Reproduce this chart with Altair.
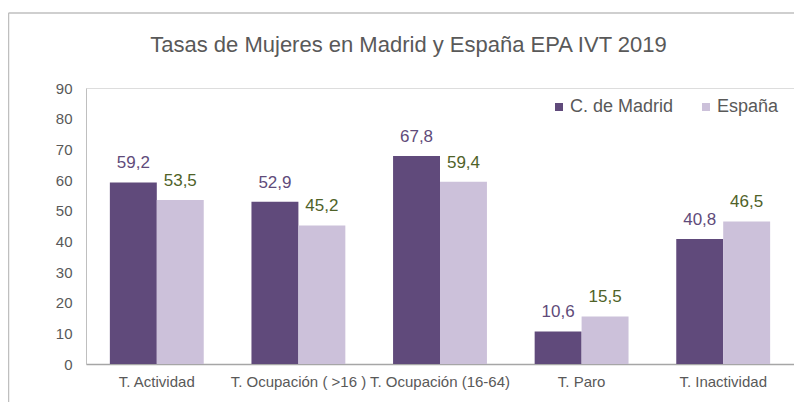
import altair as alt
import pandas as pd

categorias = ["T. Actividad", "T. Ocupación ( >16 )", "T. Ocupación (16-64)", "T. Paro", "T. Inactividad"]
madrid = [59.2, 52.9, 67.8, 10.6, 40.8]
espana = [53.5, 45.2, 59.4, 15.5, 46.5]
series = ["C. de Madrid", "España"]
colores = ["#604a7b", "#ccc1da"]
colores_etiqueta = ["#5f4b7a", "#4f6228"]
titulo = "Tasas de Mujeres en Madrid y España EPA IVT 2019"

rows = []
for c, m, e in zip(categorias, madrid, espana):
    rows.append({"cat": c, "serie": series[0], "valor": m, "etiqueta": f"{m:.1f}".replace(".", ",")})
    rows.append({"cat": c, "serie": series[1], "valor": e, "etiqueta": f"{e:.1f}".replace(".", ",")})
df = pd.DataFrame(rows)

FONT = "Liberation Sans"
W, H = 708, 276

x = alt.X("cat:N", sort=categorias, title=None,
          scale=alt.Scale(paddingInner=0.337, paddingOuter=0.1685),
          axis=alt.Axis(labelAngle=0, labelFont=FONT, labelFontSize=15, labelColor="#595959",
                        labelPadding=10, ticks=False, domainColor="#a6a6a6", domainWidth=1.5,
                        labelLimit=300, labelOverlap=False))
y = alt.Y("valor:Q", title=None,
          scale=alt.Scale(domain=[0, 90]),
          axis=alt.Axis(values=list(range(0, 91, 10)), grid=False, ticks=False,
                        labelFont=FONT, labelFontSize=15, labelColor="#595959", labelPadding=14,
                        domainColor="#bfbfbf"))
xo = alt.XOffset("serie:N", sort=series, scale=alt.Scale(paddingInner=0, paddingOuter=0))

one = pd.DataFrame({"t": [titulo]})

title_mark = alt.Chart(one).mark_text(font=FONT, fontSize=22, color="#595959", align="center",
                                      baseline="alphabetic").encode(
    text="t:N", x=alt.value(322.5), y=alt.value(-36))

box = alt.Chart(one).mark_rect(color="white").encode(
    x=alt.value(443), x2=alt.value(W), y=alt.value(1), y2=alt.value(34))

frame_left = alt.Chart(one).mark_rule(color="#bfbfbf", strokeWidth=1.5).encode(
    x=alt.value(-77.5), y=alt.value(-75), y2=alt.value(330))
frame_top = alt.Chart(one).mark_rule(color="#bfbfbf", strokeWidth=1.5).encode(
    x=alt.value(-77.5), x2=alt.value(W + 10), y=alt.value(-75))

bars = alt.Chart(df).mark_bar().encode(
    x=x, xOffset=xo, y=y,
    color=alt.Color("serie:N", sort=series, scale=alt.Scale(domain=series, range=colores),
                    legend=alt.Legend(title=None, orient="none", legendX=464, legendY=10,
                                      direction="horizontal", symbolType="square", symbolSize=64,
                                      symbolStrokeWidth=0, labelFont=FONT, labelFontSize=18,
                                      labelColor="#595959", labelOffset=2, columnPadding=23,
                                      padding=0)),
)

labels = alt.Chart(df).mark_text(font=FONT, fontSize=17, baseline="middle", dy=-19).encode(
    x=x, xOffset=xo, y=y, text="etiqueta:N",
    color=alt.condition(alt.datum.serie == series[0], alt.value(colores_etiqueta[0]), alt.value(colores_etiqueta[1])),
)

chart = alt.layer(frame_left, frame_top, title_mark, box, bars, labels).properties(
    width=W, height=H,
    autosize=alt.AutoSizeParams(type="none"),
    padding={"left": 78, "top": 80, "right": 0, "bottom": 38},
).configure_view(fill="#f2f2f2", stroke=None).configure(background="white")

chart.save("out.html", embed_options={"renderer": "svg", "actions": False})
